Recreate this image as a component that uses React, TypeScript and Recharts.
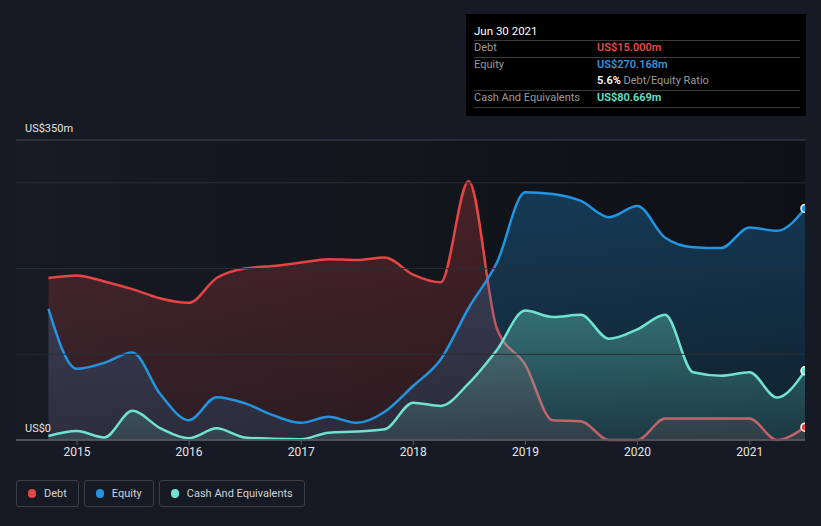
import React from 'react';
import { ComposedChart, Area, XAxis, YAxis, ReferenceLine, ReferenceArea } from 'recharts';

const quarterEnds = [
  '2014-09-30','2014-12-31','2015-03-31','2015-06-30','2015-09-30','2015-12-31',
  '2016-03-31','2016-06-30','2016-09-30','2016-12-31','2017-03-31','2017-06-30',
  '2017-09-30','2017-12-31','2018-03-31','2018-06-30','2018-09-30','2018-12-31',
  '2019-03-31','2019-06-30','2019-09-30','2019-12-31','2020-03-31','2020-06-30',
  '2020-09-30','2020-12-31','2021-03-31','2021-06-30',
];
const debt = [189,192,185,176,165,160,189,200,203,207,211,210,213,193,184,302,130,88,23,22,0,0,25,25,25,25,0,15];
const equity = [153,83,90,102,53,23,50,43,29,20,27,20,33,63,94,154,207,289,287,279,260,273,236,225,224,248,244,270.168];
const cash = [4.7,10.5,3,34,13.6,2,13.6,3,1.5,1,8.6,9.8,12.5,43.6,39.8,66,105,151,143.5,146,118,129,146,79,75,79,49.5,80.669];
const yearTicks = [2015,2016,2017,2018,2019,2020,2021];
const gridValues = [100,200,300];
const topValue = 350;
const yLabels = [{ v: 0, text: 'US$0' }, { v: 350, text: 'US$350m' }];

const toYear = (s: string) => {
  const [y, m, d] = s.split('-').map(Number);
  const start = Date.UTC(y, 0, 1);
  const end = Date.UTC(y + 1, 0, 1);
  return y + (Date.UTC(y, m - 1, d) - start) / (end - start);
};

const data = quarterEnds.map((q, i) => ({ t: toYear(q), debt: debt[i], equity: equity[i], cash: cash[i] }));
const last = data.length - 1;

const DEBT = '#e64545';
const EQUITY = '#2394df';
const CASH = '#6fe3d0';
const FONT = 'Roboto, "Noto Sans", sans-serif';

const endDot = (color: string) => (props: any) => {
  const { cx, cy, index } = props;
  if (index !== last) return <g key={`d${index}`} />;
  return <circle key={`d${index}`} cx={cx} cy={cy} r={4} fill={color} stroke="#ffffff" strokeWidth={1.5} />;
};

const yLabelContent = (text: string) => (props: any) => {
  const vb = props.viewBox || {};
  return (
    <text x={(vb.x || 0) + 9} y={(vb.y || 0) - 8} fill="#e6e6e6" fontSize={11} fontFamily={FONT} textAnchor="start">
      {text}
    </text>
  );
};

const legendItems = [
  { name: 'Debt', color: DEBT },
  { name: 'Equity', color: EQUITY },
  { name: 'Cash And Equivalents', color: CASH },
];

export default function App() {
  return (
    <div style={{ position: 'absolute', left: 0, top: 0, width: 821, height: 526, background: '#151a24', fontFamily: FONT, overflow: 'hidden' }}>
      <div style={{ position: 'absolute', left: 0, top: 0 }}>
        <ComposedChart width={821} height={470} data={data} margin={{ top: 140, right: 16, bottom: 0, left: 16 }}>
          <defs>
            <linearGradient id="bgGrad" x1="0" y1="0" x2="1" y2="0">
              <stop offset="0%" stopColor="#161b24" />
              <stop offset="100%" stopColor="#0d1015" />
            </linearGradient>
            <linearGradient id="debtGrad" x1="0" y1="0" x2="0" y2="1">
              <stop offset="0%" stopColor={DEBT} stopOpacity={0.26} />
              <stop offset="100%" stopColor={DEBT} stopOpacity={0.12} />
            </linearGradient>
            <linearGradient id="eqGrad" x1="0" y1="0" x2="0" y2="1">
              <stop offset="0%" stopColor={EQUITY} stopOpacity={0.3} />
              <stop offset="100%" stopColor={EQUITY} stopOpacity={0.12} />
            </linearGradient>
            <linearGradient id="cashGrad" x1="0" y1="0" x2="0" y2="1">
              <stop offset="0%" stopColor={CASH} stopOpacity={0.35} />
              <stop offset="100%" stopColor={CASH} stopOpacity={0.12} />
            </linearGradient>
          </defs>
          <XAxis
            dataKey="t"
            type="number"
            domain={[2014.456, 2021.493]}
            ticks={yearTicks}
            allowDataOverflow
            height={30}
            stroke="#555a62"
            tickLine={{ stroke: '#555a62' }}
            tickSize={5}
            tick={{ fill: '#e6e6e6', fontSize: 12, fontFamily: FONT }}
            tickFormatter={(v: number) => String(Math.round(v))}
          />
          <YAxis type="number" domain={[0, topValue]} hide />
          <ReferenceArea y1={0} y2={topValue} fill="url(#bgGrad)" fillOpacity={1} stroke="none" ifOverflow="visible" />
          {gridValues.map((v) => (
            <ReferenceLine key={v} y={v} stroke="#2a2e35" strokeWidth={1} />
          ))}
          <ReferenceLine y={topValue} stroke="#40444b" strokeWidth={1} />
          <Area type="monotone" dataKey="debt" stroke={DEBT} strokeWidth={2.5} fill="url(#debtGrad)" fillOpacity={1} isAnimationActive={false} dot={endDot(DEBT)} activeDot={false} />
          <Area type="monotone" dataKey="equity" stroke={EQUITY} strokeWidth={2.5} fill="url(#eqGrad)" fillOpacity={1} isAnimationActive={false} dot={endDot(EQUITY)} activeDot={false} />
          <Area type="monotone" dataKey="cash" stroke={CASH} strokeWidth={2.5} fill="url(#cashGrad)" fillOpacity={1} isAnimationActive={false} dot={endDot(CASH)} activeDot={false} />
          <ReferenceLine y={0} stroke="#555a62" strokeWidth={1.5} />
          {yLabels.map((l) => (
            <ReferenceLine key={`lab${l.v}`} y={l.v} stroke="none" label={yLabelContent(l.text)} />
          ))}
        </ComposedChart>
      </div>

      <div style={{ position: 'absolute', left: 466, top: 14, width: 340, height: 102, background: '#000000', fontSize: 11, color: '#9a9a9a' }}>
        <div style={{ position: 'absolute', left: 8, top: 10, color: '#ffffff', fontSize: 11.5 }}>Jun 30 2021</div>
        <div style={{ position: 'absolute', left: 8, right: 6, top: 26, height: 1, background: '#3c3c3c' }} />
        <div style={{ position: 'absolute', left: 8, top: 27 }}>Debt</div>
        <div style={{ position: 'absolute', left: 131, top: 27, color: '#e8484b', fontWeight: 600 }}>US$15.000m</div>
        <div style={{ position: 'absolute', left: 8, right: 6, top: 43, height: 1, background: '#3c3c3c' }} />
        <div style={{ position: 'absolute', left: 8, top: 44 }}>Equity</div>
        <div style={{ position: 'absolute', left: 131, top: 44, color: '#2d97e0', fontWeight: 600 }}>US$270.168m</div>
        <div style={{ position: 'absolute', left: 131, top: 60 }}><span style={{ color: '#ffffff', fontWeight: 600 }}>5.6%</span> Debt/Equity Ratio</div>
        <div style={{ position: 'absolute', left: 8, right: 6, top: 76, height: 1, background: '#3c3c3c' }} />
        <div style={{ position: 'absolute', left: 8, top: 77 }}>Cash And Equivalents</div>
        <div style={{ position: 'absolute', left: 131, top: 77, color: '#6fe3d0', fontWeight: 600 }}>US$80.669m</div>
        <div style={{ position: 'absolute', left: 8, right: 6, top: 93, height: 1, background: '#3c3c3c' }} />
      </div>

      <div style={{ position: 'absolute', left: 16, top: 480, display: 'flex', gap: 5 }}>
        {legendItems.map((it) => (
          <div key={it.name} style={{ height: 25, border: '1px solid #3a3f49', borderRadius: 3, display: 'flex', alignItems: 'center', padding: '0 11px 0 11px', color: '#cfd2d6', fontSize: 11 }}>
            <span style={{ width: 8, height: 9, borderRadius: 4.5, background: it.color, display: 'inline-block', marginRight: 8 }} />
            {it.name}
          </div>
        ))}
      </div>
    </div>
  );
}
